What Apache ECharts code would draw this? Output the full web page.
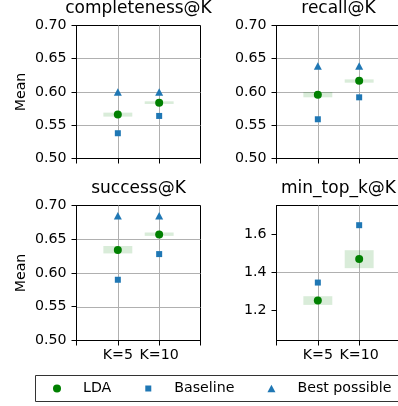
<!DOCTYPE html>
<html>
<head>
<meta charset="utf-8">
<script src="https://cdn.jsdelivr.net/npm/echarts@6/dist/echarts.min.js"></script>
<style>
  html, body { margin: 0; padding: 0; background: #fff; }
  #chart { width: 398px; height: 406px; }
</style>
</head>
<body>
<div id="chart"></div>
<script>
// x positions of the two K settings and their tick labels
var kPos = [0, 1];
var kLabels = ['K=5', 'K=10'];

var panelTitles = ['completeness@K', 'recall@K', 'success@K', 'min_top_k@K'];

// completeness@K
var completenessLda = [0.566, 0.584];
var completenessBaseline = [0.538, 0.564];
var completenessBest = [0.600, 0.600];
var completenessCiLow = [0.563, 0.582];
var completenessCiHigh = [0.569, 0.586];

// recall@K
var recallLda = [0.596, 0.617];
var recallBaseline = [0.559, 0.592];
var recallBest = [0.639, 0.639];
var recallCiLow = [0.592, 0.614];
var recallCiHigh = [0.600, 0.619];

// success@K
var successLda = [0.634, 0.657];
var successBaseline = [0.590, 0.628];
var successBest = [0.685, 0.685];
var successCiLow = [0.629, 0.655];
var successCiHigh = [0.640, 0.660];

// min_top_k@K (no best possible)
var minTopLda = [1.251, 1.470];
var minTopBaseline = [1.346, 1.649];
var minTopCiLow = [1.228, 1.422];
var minTopCiHigh = [1.274, 1.517];

// y tick labels
var meanTicks = [0.50, 0.55, 0.60, 0.65, 0.70];
var minTopTicks = [1.2, 1.4, 1.6];

var GREEN = '#008000';
var BLUE = '#1f77b4';
var FONT = 'DejaVu Sans';
var CI_HALF = 0.35; // half width of the CI box, in x units

// right column runs past the picture edge, like the cropped source figure
var grids = [
    {left: 76.5, top: 25.5, width: 124, height: 133},
    {left: 276.5, top: 25.5, width: 124, height: 133},
    {left: 76.5, top: 205.5, width: 124, height: 135},
    {left: 276.5, top: 205.5, width: 124, height: 135}
];

var textStyle = {fontFamily: FONT, fontSize: 14.2, color: '#000'};

function xAxisFor(i) {
    var bottomRow = i >= 2;
    return {
        type: 'value', gridIndex: i, min: -1, max: 2, interval: 1,
        axisLine: {show: true, onZero: false, lineStyle: {color: '#000', width: 1}},
        axisTick: {show: true, length: 5, lineStyle: {color: '#000'}},
        axisLabel: {
            show: bottomRow, margin: 8, fontFamily: FONT, fontSize: 14.2, color: '#000',
            formatter: function (v) {
                var idx = kPos.indexOf(v);
                return idx >= 0 ? kLabels[idx] : '';
            }
        },
        splitLine: {show: true, showMinLine: false, showMaxLine: false, lineStyle: {color: '#b0b0b0', width: 1}}
    };
}

function yAxisFor(i) {
    var ax = {
        type: 'value', gridIndex: i,
        axisLine: {show: true, onZero: false, lineStyle: {color: '#000', width: 1}},
        axisTick: {show: true, length: 5, lineStyle: {color: '#000'}},
        splitLine: {show: true, showMinLine: false, showMaxLine: false, lineStyle: {color: '#b0b0b0', width: 1}},
        axisLabel: {margin: 10, fontFamily: FONT, fontSize: 14.2, color: '#000'}
    };
    if (i < 3) {
        ax.min = meanTicks[0];
        ax.max = meanTicks[meanTicks.length - 1];
        ax.interval = 0.05;
        ax.axisLabel.formatter = function (v) { return v.toFixed(2); };
    } else {
        ax.min = 1.04;
        ax.max = 1.753;
        ax.minInterval = 0.2;
        ax.maxInterval = 0.2;
        ax.splitNumber = 4;
        ax.axisTick.customValues = minTopTicks;
        ax.axisLabel.customValues = minTopTicks;
        ax.axisLabel.formatter = function (v) { return v.toFixed(1); };
    }
    if (i % 2 === 0) {
        ax.name = 'Mean';
        ax.nameLocation = 'middle';
        ax.nameGap = 48;
        ax.nameRotate = 90;
        ax.nameTextStyle = textStyle;
    }
    return ax;
}

function pairs(vals) {
    return kPos.map(function (x, j) { return [x, vals[j]]; });
}

function panelSeries(i, lda, baseline, best, ciLow, ciHigh) {
    var out = [];
    out.push({
        type: 'custom', name: 'CI', xAxisIndex: i, yAxisIndex: i, silent: true,
        data: kPos.map(function (x, j) { return [x, ciLow[j], ciHigh[j]]; }),
        renderItem: function (params, api) {
            var x = api.value(0);
            var p1 = api.coord([x - CI_HALF, api.value(2)]);
            var p2 = api.coord([x + CI_HALF, api.value(1)]);
            return {
                type: 'rect',
                shape: {x: p1[0], y: p1[1], width: p2[0] - p1[0], height: p2[1] - p1[1]},
                style: {fill: 'rgba(0,128,0,0.15)'}
            };
        }
    });
    out.push({
        type: 'scatter', name: 'LDA', xAxisIndex: i, yAxisIndex: i,
        symbol: 'circle', symbolSize: 8, itemStyle: {color: GREEN, opacity: 1},
        data: pairs(lda), z: 4
    });
    out.push({
        type: 'scatter', name: 'Baseline', xAxisIndex: i, yAxisIndex: i,
        symbol: 'rect', symbolSize: 6, itemStyle: {color: BLUE, opacity: 1},
        data: pairs(baseline), z: 3
    });
    if (best) {
        out.push({
            type: 'scatter', name: 'Best possible', xAxisIndex: i, yAxisIndex: i,
            symbol: 'triangle', symbolSize: [8, 7.5], itemStyle: {color: BLUE, opacity: 1},
            data: pairs(best), z: 3
        });
    }
    return out;
}

var series = [].concat(
    panelSeries(0, completenessLda, completenessBaseline, completenessBest, completenessCiLow, completenessCiHigh),
    panelSeries(1, recallLda, recallBaseline, recallBest, recallCiLow, recallCiHigh),
    panelSeries(2, successLda, successBaseline, successBest, successCiLow, successCiHigh),
    panelSeries(3, minTopLda, minTopBaseline, null, minTopCiLow, minTopCiHigh)
);

var chart = echarts.init(document.getElementById('chart'), null, {renderer: 'canvas'});
chart.setOption({
    animation: false,
    backgroundColor: '#fff',
    title: panelTitles.map(function (t, i) {
        var g = grids[i];
        return {
            text: t, left: g.left + g.width / 2, top: g.top - 25, textAlign: 'center', padding: 0,
            textStyle: {fontFamily: FONT, fontSize: 17, fontWeight: 'normal', color: '#000'}
        };
    }),
    grid: grids.map(function (g) {
        return {left: g.left, top: g.top, width: g.width, height: g.height,
            outerBoundsMode: 'none', containLabel: false,
            show: true, borderColor: '#000', borderWidth: 1, backgroundColor: 'transparent'};
    }),
    xAxis: grids.map(function (g, i) { return xAxisFor(i); }),
    yAxis: grids.map(function (g, i) { return yAxisFor(i); }),
    // legend frame: runs past the right edge of the picture, as in the source figure
    graphic: [{
        type: 'rect', silent: true, z: 100,
        shape: {x: 35.5, y: 375.5, width: 400, height: 26},
        style: {fill: 'none', stroke: '#333', lineWidth: 1}
    }],
    legend: {
        left: 35.5, top: 375.5, width: 370, orient: 'horizontal',
        padding: [6, 0, 6, 17.5],
        itemWidth: 8, itemHeight: 8, itemGap: 33,
        textStyle: {fontFamily: FONT, fontSize: 14.2, color: '#000', padding: [0, 0, 0, 17]},
        data: [
            {name: 'LDA', icon: 'circle'},
            // invisible move-to points pad the icon box so the marker keeps its size
            {name: 'Baseline', icon: 'path://M0,0M8,8M1,1H7V7H1Z'},
            {name: 'Best possible', icon: 'path://M0,0M8,8M4,0.25L8,7.75H0Z'}
        ],
        selectedMode: false
    },
    series: series
});
</script>
</body>
</html>
